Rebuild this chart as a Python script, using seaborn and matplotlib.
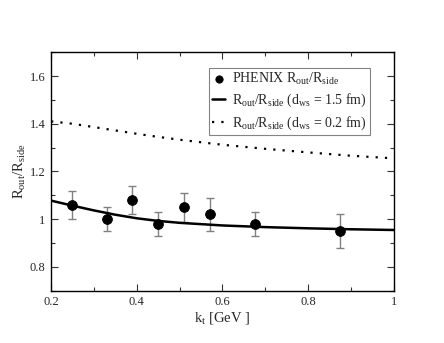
import numpy as np
import pandas as pd
import matplotlib
matplotlib.use("Agg")
import matplotlib.pyplot as plt
import seaborn as sns
from matplotlib.ticker import MultipleLocator, FuncFormatter

# PHENIX data points
kt_data = [0.25, 0.33, 0.39, 0.45, 0.51, 0.57, 0.675, 0.875]
ratio_data = [1.06, 1.00, 1.08, 0.98, 1.05, 1.02, 0.98, 0.95]
ratio_err = [0.06, 0.05, 0.06, 0.05, 0.06, 0.07, 0.05, 0.07]

# model curves
kt_curve = [0.2, 0.25, 0.3, 0.35, 0.4, 0.45, 0.5, 0.6, 0.7, 0.8, 0.9, 1.0]
ratio_15fm = [1.078, 1.057, 1.037, 1.019, 1.004, 0.993, 0.985, 0.974, 0.967, 0.962, 0.958, 0.955]
ratio_02fm = [1.41, 1.40, 1.386, 1.372, 1.358, 1.345, 1.333, 1.312, 1.295, 1.28, 1.266, 1.255]

sns.set_style("ticks")
plt.rcParams['font.family'] = ['Liberation Serif', 'DejaVu Serif']
plt.rcParams['mathtext.fontset'] = 'custom'
plt.rcParams['mathtext.rm'] = 'Liberation Serif'
plt.rcParams['mathtext.it'] = 'Liberation Serif:italic'

fig = plt.figure(figsize=(4.44, 3.43), dpi=100)
ax = fig.add_axes([0.115, 0.152, 0.772, 0.696])

curves = pd.DataFrame({"kt": kt_curve, "d15": ratio_15fm, "d02": ratio_02fm})

ax.errorbar(kt_data, ratio_data, yerr=ratio_err, fmt="none", ecolor="#808080",
            elinewidth=1.0, capsize=3, capthick=1.0, zorder=2)
sns.scatterplot(x=kt_data, y=ratio_data, ax=ax, color="black", s=50, edgecolor="black",
                zorder=3, label=r"PHENIX R$_{\rm out}$/R$_{\rm side}$")
sns.lineplot(data=curves, x="kt", y="d15", ax=ax, color="black", linewidth=1.8,
             label=r"R$_{\rm out}$/R$_{\rm side}$ (d$_{\rm ws}$ = 1.5 fm)")
sns.lineplot(data=curves, x="kt", y="d02", ax=ax, color="black", linewidth=1.6,
             linestyle=(0, (1, 3.2)),
             label=r"R$_{\rm out}$/R$_{\rm side}$ (d$_{\rm ws}$ = 0.2 fm)")

ax.set_xlim(0.2, 1.0)
ax.set_ylim(0.7, 1.7)
ax.xaxis.set_major_locator(MultipleLocator(0.2))
ax.xaxis.set_minor_locator(MultipleLocator(0.1))
ax.yaxis.set_major_locator(MultipleLocator(0.2))
ax.yaxis.set_minor_locator(MultipleLocator(0.1))
fmt = FuncFormatter(lambda v, p: f"{v:g}")
ax.xaxis.set_major_formatter(fmt)
ax.yaxis.set_major_formatter(fmt)
ax.tick_params(which="both", direction="in", top=True, right=True, labelsize=9,
               color="#333333", width=0.8, pad=4)
ax.tick_params(which="major", length=5)
ax.tick_params(which="minor", length=3)
for s in ax.spines.values():
    s.set_linewidth(1.0)
    s.set_color("black")

ax.set_xlabel(r"k$_{\rm t}$ [GeV ]", fontsize=10.5, labelpad=1)
ax.set_ylabel(r"R$_{\rm out}$/R$_{\rm side}$", fontsize=10.5, labelpad=1)

leg = ax.legend(loc="upper right", bbox_to_anchor=(0.93, 0.935), fontsize=10,
                frameon=True, fancybox=False, edgecolor="#666666", handlelength=0.9,
                handletextpad=0.5, borderpad=0.25, labelspacing=0.35, borderaxespad=0,
                markerscale=0.75)
leg.get_frame().set_linewidth(0.8)

fig.savefig("out.png", dpi=100)
